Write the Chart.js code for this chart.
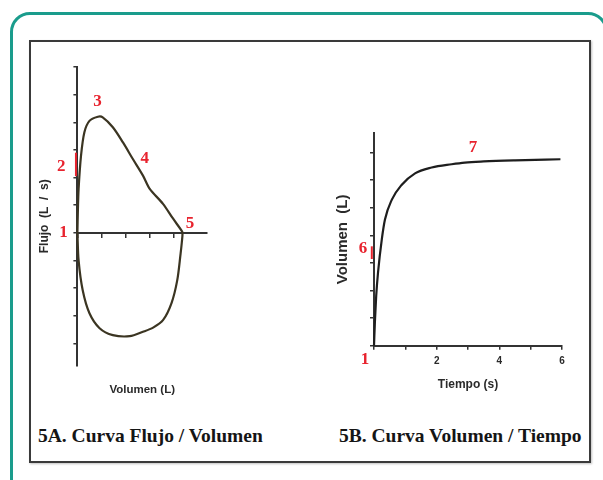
<!DOCTYPE html>
<html>
<head>
<meta charset="utf-8">
<script src="https://cdn.jsdelivr.net/npm/chart.js@4"></script>
<style>
  body { margin: 0; background: #fff; width: 603px; height: 480px; overflow: hidden; position: relative; }
  .frame { position: absolute; left: 10px; top: 12px; width: 598px; height: 500px; border: 3px solid #1a9c8c; border-radius: 20px; box-sizing: border-box; }
  .box { position: absolute; left: 29px; top: 40px; width: 562px; height: 423px; border: 2px solid #3a3a3a; box-sizing: border-box; box-shadow: 1px 1px 2px rgba(0,0,0,0.25); }
  .caption { position: absolute; font-family: "Liberation Serif", "Times New Roman", serif; font-weight: bold; font-size: 19.5px; color: #151515; top: 425px; white-space: nowrap; }
  .wrap { position: absolute; }
</style>
</head>
<body>
<div class="frame"></div>
<div class="box"></div>
<div class="caption" style="left:38px">5A. Curva Flujo / Volumen</div>
<div class="caption" style="left:339px">5B. Curva Volumen / Tiempo</div>
<div class="wrap" style="left:30px; top:57px; width:187px; height:344px"><canvas id="loopChart"></canvas></div>
<div class="wrap" style="left:330px; top:120px; width:242px; height:276px"><canvas id="timeChart"></canvas></div>
<script>
// curva flujo / volumen (espiración arriba, inspiración abajo)
const loopVolume = [0, 0.02, 0.05, 0.15, 0.29, 0.5, 0.85, 1.05, 1.47, 1.89, 2.3, 2.72, 3.0, 3.55, 3.97, 4.32, 4.36,
                    4.33, 4.28, 4.14, 3.9, 3.55, 3.14, 2.72, 2.17, 1.47, 0.92, 0.5, 0.22, 0.05, 0];
const loopFlow = [0, 0.8, 1.59, 2.79, 3.64, 4.05, 4.2, 4.18, 3.82, 3.27, 2.67, 2.07, 1.59, 1.05, 0.51, 0.08, 0,
                  -0.35, -0.75, -1.72, -2.55, -3.16, -3.43, -3.58, -3.74, -3.7, -3.45, -2.91, -2.08, -1.0, 0];

// curva volumen / tiempo
const timeSec = [0, 0.03, 0.07, 0.13, 0.25, 0.35, 0.57, 0.88, 1.31, 1.84, 2.48, 2.9, 3.5, 4.5, 5.95];
const timeVolume = [0, 0.9, 1.8, 2.67, 3.86, 4.57, 5.29, 5.82, 6.24, 6.45, 6.57, 6.63, 6.67, 6.71, 6.75];

// marcas rojas numeradas (en unidades de los ejes)
const loopMarks = [
  { text: '1', x: -0.58, y: 0 },
  { text: '2', x: -0.67, y: 2.38 },
  { text: '3', x: 0.83, y: 4.73 },
  { text: '4', x: 2.79, y: 2.67 },
  { text: '5', x: 4.67, y: 0.32 }
];
const loopBar = { x: [-0.06, -0.06], y: [2.05, 2.9] };
const timeMarks = [
  { text: '6', x: -0.35, y: 3.5 },
  { text: '7', x: 3.16, y: 7.18 },
  { text: '1', x: -0.29, y: -0.5 }
];
const timeBar = { x: [-0.07, -0.07], y: [3.14, 3.6] };

const red = '#e8232e';
const ink = '#3b3522';
const axisColor = '#333';
const sans = 'Liberation Sans, Arial, sans-serif';

const toPoints = (xs, ys) => xs.map((x, i) => ({ x: x, y: ys[i] }));
const onlyIntegers = scale => { scale.ticks = scale.ticks.filter(t => Number.isInteger(Math.round(t.value * 1000) / 1000)); };

// dibuja los números rojos usando las escalas
const redLabels = {
  id: 'redLabels',
  afterDatasetsDraw(chart, args, opts) {
    const { ctx, scales } = chart;
    ctx.save();
    ctx.fillStyle = red;
    ctx.font = 'bold 17px "Liberation Serif", "Times New Roman", serif';
    ctx.textAlign = 'center';
    ctx.textBaseline = 'middle';
    opts.marks.forEach(m => {
      ctx.fillText(m.text, scales.x.getPixelForValue(m.x), scales.y.getPixelForValue(m.y));
    });
    ctx.restore();
  }
};

const axisGrid = { display: true, drawOnChartArea: false, drawTicks: true, tickLength: 4, color: axisColor, lineWidth: 1.5 };
const axisBorder = { display: true, color: axisColor, width: 2 };

new Chart(document.getElementById('loopChart'), {
  type: 'scatter',
  data: {
    datasets: [
      { data: toPoints(loopBar.x, loopBar.y), showLine: true, borderColor: red, borderWidth: 2, pointRadius: 0, clip: false },
      { data: toPoints(loopVolume, loopFlow), showLine: true, borderColor: ink, borderWidth: 2.2, pointRadius: 0, tension: 0.3, clip: false }
    ]
  },
  options: {
    responsive: true,
    maintainAspectRatio: false,
    animation: false,
    layout: { padding: { left: 3.8, top: 10, right: 10, bottom: 0 } },
    plugins: { legend: { display: false }, tooltip: { enabled: false }, redLabels: { marks: loopMarks } },
    scales: {
      x: {
        type: 'linear', position: { y: 0 }, min: 0, max: 5.375,
        ticks: { display: false, stepSize: 1 },
        afterBuildTicks: onlyIntegers,
        grid: axisGrid, border: axisBorder
      },
      xt: {
        type: 'linear', position: 'bottom', axis: 'x', min: 0, max: 5.375,
        ticks: { display: false },
        grid: { display: false }, border: { display: false },
        title: { display: true, text: 'Volumen (L)', color: '#2a2a2a', font: { family: sans, size: 11.5, weight: 'bold' }, padding: { top: 9.7, bottom: 4 } }
      },
      y: {
        type: 'linear', position: 'left', min: -4.8, max: 6,
        ticks: { display: false, stepSize: 1 },
        afterBuildTicks: onlyIntegers,
        grid: axisGrid, border: axisBorder,
        title: { display: true, text: 'Flujo  (L  /  s)', color: '#2a2a2a', font: { family: sans, size: 12, weight: 'bold' }, padding: { top: 4, bottom: 21.2 } }
      }
    }
  },
  plugins: [redLabels]
});

new Chart(document.getElementById('timeChart'), {
  type: 'scatter',
  data: {
    datasets: [
      { data: toPoints(timeBar.x, timeBar.y), showLine: true, borderColor: red, borderWidth: 2, pointRadius: 0, clip: false },
      { data: toPoints(timeSec, timeVolume), showLine: true, borderColor: '#1e1e1e', borderWidth: 2.2, pointRadius: 0, cubicInterpolationMode: 'monotone', clip: false }
    ]
  },
  options: {
    responsive: true,
    maintainAspectRatio: false,
    animation: false,
    layout: { padding: { left: 0, top: 13, right: 10, bottom: 0 } },
    plugins: { legend: { display: false }, tooltip: { enabled: false }, redLabels: { marks: timeMarks } },
    scales: {
      x: {
        type: 'linear', position: 'bottom', min: 0, max: 6,
        ticks: {
          stepSize: 1, padding: 5, color: '#2a2a2a',
          font: { family: sans, size: 10, weight: 'bold' },
          callback: v => (v > 0 && v % 2 === 0) ? v : ''
        },
        grid: axisGrid, border: axisBorder,
        title: { display: true, text: 'Tiempo (s)', color: '#2a2a2a', font: { family: sans, size: 12, weight: 'bold' }, padding: { top: 5.8, bottom: 4 } }
      },
      y: {
        type: 'linear', position: 'left', min: 0, max: 7.7,
        ticks: { display: false, stepSize: 1 },
        afterBuildTicks: onlyIntegers,
        grid: axisGrid, border: axisBorder,
        title: { display: true, text: 'Volumen  (L)', color: '#2a2a2a', font: { family: sans, size: 15, weight: 'bold' }, padding: { top: 4, bottom: 18 } }
      }
    }
  },
  plugins: [redLabels]
});
</script>
</body>
</html>
